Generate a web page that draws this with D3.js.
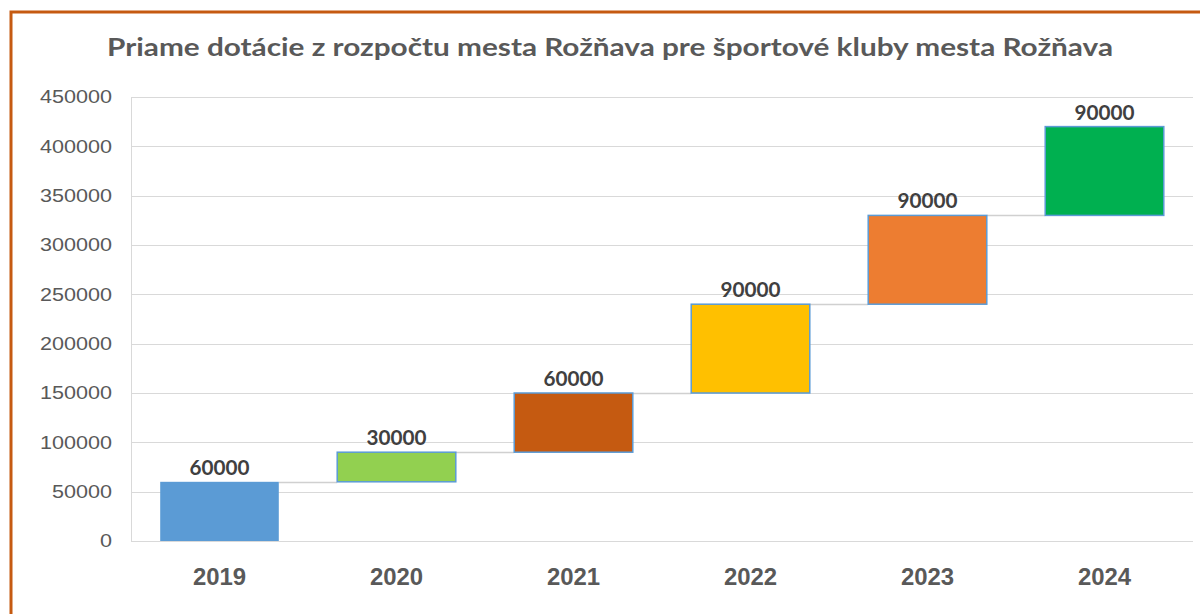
<!DOCTYPE html>
<html>
<head>
<meta charset="utf-8">
<script src="https://cdn.jsdelivr.net/npm/d3@7"></script>
<style>
  body { margin: 0; background: #fff; }
  svg { display: block; font-family: Lato, "Open Sans", sans-serif; }
</style>
</head>
<body>
<div id="graf"></div>
<script>
// roky a prírastky dotácií (vodopádový graf)
const roky = ['2019', '2020', '2021', '2022', '2023', '2024'];
const prirastky = [60000, 30000, 60000, 90000, 90000, 90000];
const farby = ['#5B9BD5', '#92D050', '#C55A11', '#FFC000', '#ED7D31', '#00B050'];
const yTicky = [0, 50000, 100000, 150000, 200000, 250000, 300000, 350000, 400000, 450000];

const sirka = 1200, vyska = 614;
const okraj = { hore: 97, vpravo: 7, dole: 73, vlavo: 131 };

// začiatok a koniec každého stĺpca
let suma = 0;
const data = roky.map((r, i) => {
  const od = suma;
  suma += prirastky[i];
  return { rok: r, od: od, po: suma, hodnota: prirastky[i], farba: farby[i] };
});

// pôvodný obrázok je vodorovne roztiahnutý, texty sa preto naťahujú podľa počtu znakov
const natiahni = (sel, naZnak) => sel
  .attr('textLength', function() { return this.textContent.length * naZnak; })
  .attr('lengthAdjust', 'spacingAndGlyphs');

const svg = d3.select('#graf').append('svg')
  .attr('width', sirka)
  .attr('height', vyska);

// oranžový rámik
svg.append('path')
  .attr('d', `M11,${vyska} L11,12 L${sirka},12`)
  .attr('fill', 'none')
  .attr('stroke', '#C55A11')
  .attr('stroke-width', 3);

const x = d3.scaleBand()
  .domain(roky)
  .range([okraj.vlavo, sirka - okraj.vpravo])
  .paddingInner(0.33)
  .paddingOuter(0.165);

const y = d3.scaleLinear()
  .domain([0, 450000])
  .range([vyska - okraj.dole, okraj.hore]);

// mriežka
svg.append('g')
  .selectAll('line')
  .data(yTicky)
  .join('line')
  .attr('x1', okraj.vlavo)
  .attr('x2', sirka - okraj.vpravo)
  .attr('y1', d => Math.round(y(d)) + 0.5)
  .attr('y2', d => Math.round(y(d)) + 0.5)
  .attr('stroke', '#d9d9d9')
  .attr('stroke-width', 1);

svg.append('line')
  .attr('x1', okraj.vlavo + 0.5).attr('x2', okraj.vlavo + 0.5)
  .attr('y1', y(450000)).attr('y2', y(0))
  .attr('stroke', '#d9d9d9');

// os Y
const osY = svg.append('g')
  .attr('transform', `translate(${okraj.vlavo}, 0)`)
  .call(d3.axisLeft(y).tickValues(yTicky).tickFormat(d3.format('d')).tickSize(0).tickPadding(19));
osY.select('.domain').remove();
osY.selectAll('text')
  .attr('fill', '#595959')
  .style('font-size', '18px')
  .call(natiahni, 12);

// os X
const osX = svg.append('g')
  .attr('transform', `translate(0, ${y(0)})`)
  .call(d3.axisBottom(x).tickSize(0).tickPadding(28));
osX.select('.domain').remove();
osX.selectAll('text')
  .attr('fill', '#595959')
  .style('font-size', '23px')
  .style('font-weight', 'bold')
  .call(natiahni, 13.3);

// spojnice medzi stĺpcami
svg.append('g')
  .selectAll('line')
  .data(data.slice(0, -1))
  .join('line')
  .attr('x1', d => x(d.rok) + x.bandwidth())
  .attr('x2', (d, i) => x(roky[i + 1]))
  .attr('y1', d => Math.round(y(d.po)) + 0.5)
  .attr('y2', d => Math.round(y(d.po)) + 0.5)
  .attr('stroke', '#d0d0d0')
  .attr('stroke-width', 1.5);

// stĺpce
svg.append('g')
  .selectAll('rect')
  .data(data)
  .join('rect')
  .attr('x', d => x(d.rok))
  .attr('y', d => y(d.po))
  .attr('width', x.bandwidth())
  .attr('height', d => y(d.od) - y(d.po))
  .attr('fill', d => d.farba)
  .attr('stroke', (d, i) => i === 0 ? 'none' : '#5B9BD5')
  .attr('stroke-width', 1.5);

// popisky hodnôt
svg.append('g')
  .selectAll('text')
  .data(data)
  .join('text')
  .attr('x', d => x(d.rok) + x.bandwidth() / 2)
  .attr('y', d => y(d.po) - 7)
  .attr('text-anchor', 'middle')
  .attr('fill', '#404040')
  .style('font-size', '21px')
  .style('font-weight', 'bold')
  .text(d => d.hodnota)
  .call(natiahni, 12);

// nadpis
svg.append('text')
  .attr('x', 610)
  .attr('y', 56)
  .attr('text-anchor', 'middle')
  .attr('fill', '#595959')
  .style('font-size', '25px')
  .style('font-weight', 'bold')
  .attr('textLength', 1006)
  .attr('lengthAdjust', 'spacingAndGlyphs')
  .text('Priame dotácie z rozpočtu mesta Rožňava pre športové kluby mesta Rožňava');
</script>
</body>
</html>
